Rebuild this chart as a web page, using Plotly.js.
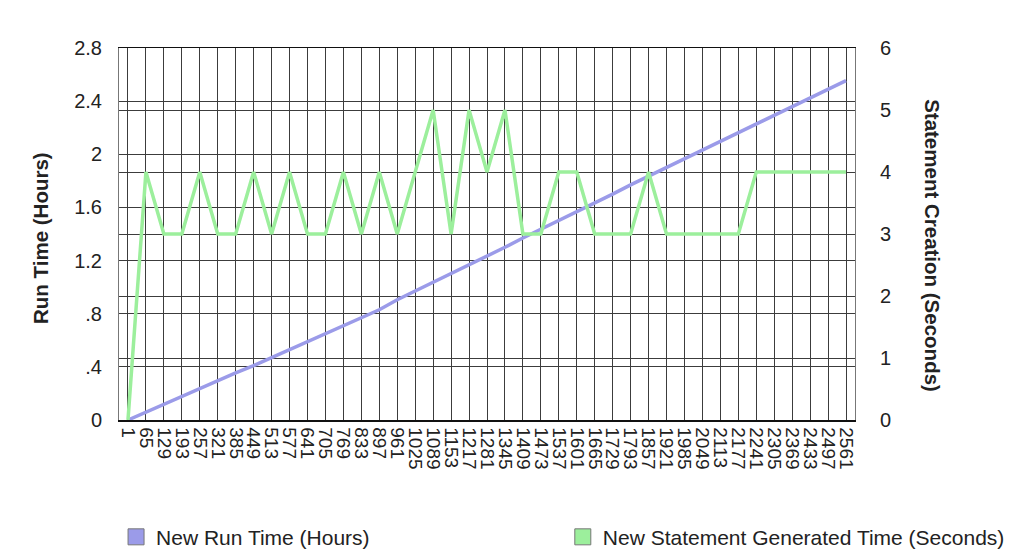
<!DOCTYPE html>
<html>
<head>
<meta charset="utf-8">
<script src="https://cdn.plot.ly/plotly-3.0.1.min.js"></script>
<style>
html,body{margin:0;padding:0;background:#fff;}
#chart{width:1023px;height:559px;}
</style>
</head>
<body>
<div id="chart"></div>
<script>
// Categories (x axis tick labels)
var categories = ['1','65','129','193','257','321','385','449','513','577','641','705','769','833','897','961','1025','1089','1153','1217','1281','1345','1409','1473','1537','1601','1665','1729','1793','1857','1921','1985','2049','2113','2177','2241','2305','2369','2433','2497','2561'];

// New Run Time (Hours) - left axis
var runTimeHours = [0,0.06,0.12,0.18,0.24,0.30,0.355,0.41,0.47,0.53,0.59,0.65,0.71,0.77,0.83,0.905,0.97,1.04,1.10,1.17,1.235,1.30,1.37,1.435,1.50,1.57,1.635,1.70,1.77,1.835,1.90,1.965,2.03,2.10,2.165,2.23,2.295,2.36,2.425,2.49,2.555];

// New Statement Generated Time (Seconds) - right axis
var statementSeconds = [0,4,3,3,4,3,3,4,3,4,3,3,4,3,4,3,4,5,3,5,4,5,3,3,4,4,3,3,3,4,3,3,3,3,3,4,4,4,4,4,4];

// Tick labels
var leftTickVals = [0,0.4,0.8,1.2,1.6,2.0,2.4,2.8];
var leftTickText = ['0','.4','.8','1.2','1.6','2','2.4','2.8'];
var rightTickVals = [0,1,2,3,4,5,6];
var rightTickText = ['0','1','2','3','4','5','6'];

var seriesNames = ['New Run Time (Hours)','New Statement Generated Time (Seconds)'];
var blue = '#9b9be9';
var green = '#9cef9c';
var gridColor = '#3c3c3c';
var font = 'Liberation Sans, Arial, sans-serif';

var traces = [
  {x: categories, y: statementSeconds, yaxis: 'y2', type: 'scatter', mode: 'lines',
   line: {color: green, width: 3.5}, showlegend: false, hoverinfo: 'none'},
  {x: categories, y: runTimeHours, type: 'scatter', mode: 'lines',
   line: {color: blue, width: 3.5}, showlegend: false, hoverinfo: 'none'},
  {x: [null], y: [null], type: 'scatter', mode: 'markers', name: seriesNames[0], legend: 'legend',
   marker: {symbol: 'square', size: 16, color: blue, line: {color: '#777', width: 1}}},
  {x: [null], y: [null], type: 'scatter', mode: 'markers', name: seriesNames[1], legend: 'legend2',
   marker: {symbol: 'square', size: 16, color: green, line: {color: '#777', width: 1}}}
];

var legendFont = {family: font, size: 21, color: '#222'};

var layout = {
  width: 1023, height: 559,
  margin: {l: 119, r: 168, t: 48, b: 139, pad: 0, autoexpand: false},
  paper_bgcolor: '#fff', plot_bgcolor: '#fff',
  font: {family: font, size: 20, color: '#222'},
  showlegend: true,
  legend: {orientation: 'h', x: -0.004, xanchor: 'left', y: -0.315, yanchor: 'middle',
           font: legendFont, bgcolor: 'rgba(0,0,0,0)'},
  legend2: {orientation: 'h', x: 0.603, xanchor: 'left', y: -0.315, yanchor: 'middle',
           font: legendFont, bgcolor: 'rgba(0,0,0,0)'},
  xaxis: {type: 'category', range: [-0.5, 40.5], tickangle: 90, tickmode: 'linear', dtick: 1,
          showgrid: true, gridcolor: gridColor, gridwidth: 1,
          showline: true, linecolor: '#111', linewidth: 1.5, mirror: true,
          ticks: '', ticklabelstandoff: 2, tickfont: {family: font, size: 19, color: '#222'},
          fixedrange: true, automargin: false},
  yaxis: {range: [0, 2.8], tickvals: leftTickVals, ticktext: leftTickText,
          showgrid: true, gridcolor: gridColor, gridwidth: 1, zeroline: false,
          showline: true, linecolor: '#777', linewidth: 1, mirror: true,
          ticks: '', ticklabelstandoff: 12,
          tickfont: {family: font, size: 20, color: '#222'}, fixedrange: true, automargin: false},
  yaxis2: {range: [0, 6], tickvals: rightTickVals, ticktext: rightTickText,
           overlaying: 'y', side: 'right',
           showgrid: true, gridcolor: gridColor, gridwidth: 1, zeroline: false,
           showline: false, ticks: '', ticklabelstandoff: 24,
           tickfont: {family: font, size: 20, color: '#222'}, fixedrange: true, automargin: false},
  annotations: [
    {text: '<b>Run Time (Hours)</b>', xref: 'paper', yref: 'paper', x: -0.107, y: 0.49,
     xanchor: 'center', yanchor: 'middle', textangle: -90, showarrow: false,
     font: {family: font, size: 20.5, color: '#222'}},
    {text: '<b>Statement Creation (Seconds)</b>', xref: 'paper', yref: 'paper', x: 1.106, y: 0.47,
     xanchor: 'center', yanchor: 'middle', textangle: 90, showarrow: false,
     font: {family: font, size: 20.5, color: '#222'}}
  ]
};

Plotly.newPlot('chart', traces, layout, {displayModeBar: false, staticPlot: true});
</script>
</body>
</html>
